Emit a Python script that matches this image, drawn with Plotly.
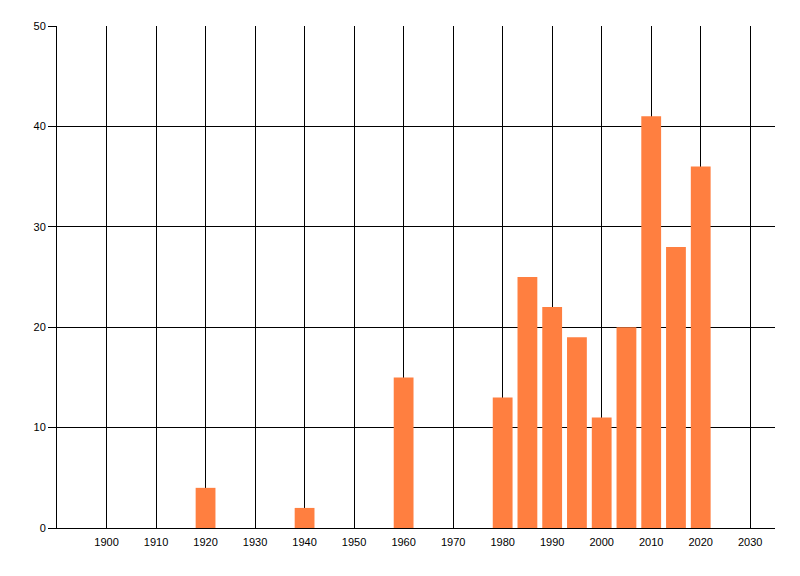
import plotly.graph_objects as go

# anni e conteggi
years = [1920, 1940, 1960, 1980, 1985, 1990, 1995, 2000, 2005, 2010, 2015, 2020]
counts = [4, 2, 15, 13, 25, 22, 19, 11, 20, 41, 28, 36]

x_ticks = list(range(1900, 2031, 10))
y_ticks = list(range(0, 51, 10))

fig = go.Figure()

fig.add_trace(go.Bar(
    x=years,
    y=counts,
    width=4,
    marker=dict(color="#FF7F40", line=dict(width=0)),
    showlegend=False,
))

# la pagina ha 8px di margine sul body: ne tengo conto nei margini
fig.update_layout(
    width=792,
    height=568,
    plot_bgcolor="white",
    paper_bgcolor="white",
    font=dict(family="Liberation Sans, Arial, sans-serif", size=11, color="#000"),
    margin=dict(l=49, r=25, t=18, b=48),
    xaxis=dict(
        range=[1890, 2035],
        tickvals=x_ticks,
        showgrid=True,
        gridcolor="#000",
        gridwidth=1,
        showline=True,
        linecolor="#000",
        linewidth=1,
        # tick invisibili, solo per spostare un po' in basso le etichette
        ticks="outside",
        ticklen=4,
        tickcolor="white",
        zeroline=False,
        tickfont=dict(size=11),
    ),
    yaxis=dict(
        range=[0, 50],
        tickvals=y_ticks,
        showgrid=True,
        gridcolor="#000",
        gridwidth=1,
        showline=True,
        linecolor="#000",
        linewidth=1,
        ticks="outside",
        ticklen=8,
        tickcolor="#000",
        zeroline=False,
        tickfont=dict(size=11),
    ),
)

fig.write_html("out.html")
